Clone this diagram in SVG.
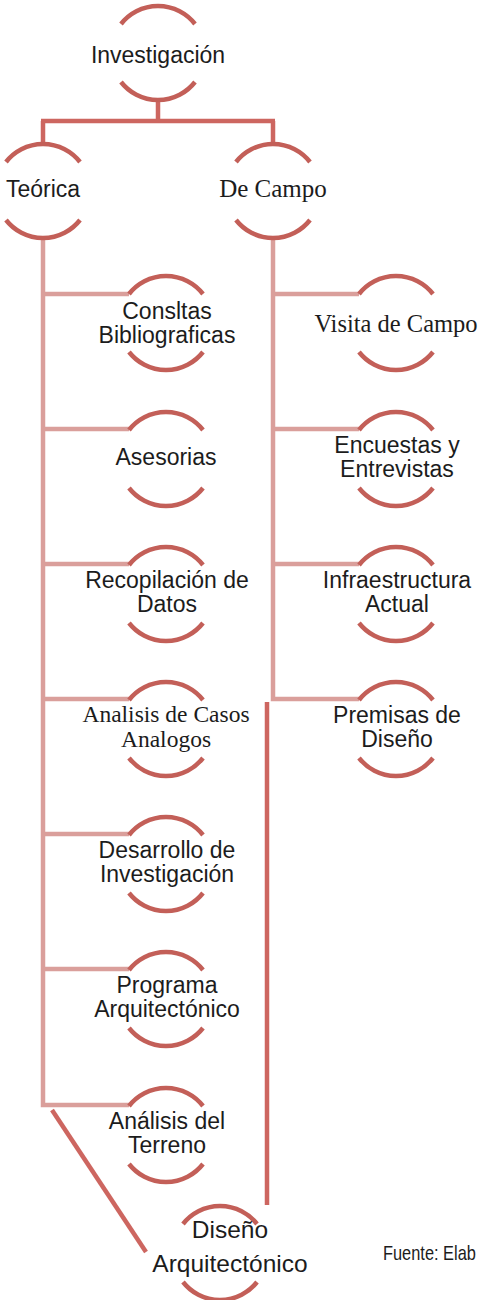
<svg xmlns="http://www.w3.org/2000/svg" width="478" height="1300" viewBox="0 0 478 1300">
<style>
.arc{fill:none;stroke:#c35f58;stroke-width:4.5}
.lt{fill:none;stroke:#da9f9b;stroke-width:4.5}
.dk{fill:none;stroke:#cd6660;stroke-width:4.5}
.s{font-family:"Liberation Sans",Arial,sans-serif;font-size:23px;fill:#1c1c1c;text-anchor:middle}
.r{font-family:"Liberation Serif","Times New Roman",serif;font-size:24.5px;fill:#1c1c1c;text-anchor:middle}
</style>
<rect width="478" height="1300" fill="#ffffff"/>
<g id="connectors">
<path class="dk" d="M158 100 V121 M41 121 H275 M43 121 V144 M273 121 V144"/>
<path class="lt" d="M43 238 V1105 H129 M43 294 H129 M43 429 H129 M43 564 H129 M43 699 H129 M43 834 H129 M43 969 H129"/>
<path class="lt" d="M273 238 V699 H359 M273 294 H359 M273 429 H359 M273 564 H359"/>
<path class="dk" d="M267 702 V1205"/>
<path class="dk" d="M52 1110 L146 1252"/>
</g>
<g id="investigacion">
<path class="arc" d="M121 24 A47 47 0 0 1 195 24 M121 82 A47 47 0 0 0 195 82"/>
<text class="s" x="158" y="63">Investigación</text>
</g>
<g id="teorica">
<path class="arc" d="M6 162 A47 47 0 0 1 80 162 M6 220 A47 47 0 0 0 80 220"/>
<text class="s" x="43" y="197">Teórica</text>
</g>
<g id="decampo">
<path class="arc" d="M236 162 A47 47 0 0 1 310 162 M236 220 A47 47 0 0 0 310 220"/>
<text class="r" x="273" y="197" style="font-size:25px">De Campo</text>
</g>
<g id="consultas">
<path class="arc" d="M129 294 A47 47 0 0 1 203 294 M129 352 A47 47 0 0 0 203 352"/>
<text class="s" x="167" y="319">Consltas</text>
<text class="s" x="167" y="343">Bibliograficas</text>
</g>
<g id="asesorias">
<path class="arc" d="M129 430 A47 47 0 0 1 203 430 M129 488 A47 47 0 0 0 203 488"/>
<text class="s" x="166" y="465">Asesorias</text>
</g>
<g id="recopilacion">
<path class="arc" d="M129 565 A47 47 0 0 1 203 565 M129 623 A47 47 0 0 0 203 623"/>
<text class="s" x="167" y="588">Recopilación de</text>
<text class="s" x="167" y="612">Datos</text>
</g>
<g id="analisis-casos">
<path class="arc" d="M129 700 A47 47 0 0 1 203 700 M129 758 A47 47 0 0 0 203 758"/>
<text class="r" x="166" y="722" style="font-size:23.5px">Analisis de Casos</text>
<text class="r" x="166" y="747" style="font-size:23.5px">Analogos</text>
</g>
<g id="desarrollo">
<path class="arc" d="M129 835 A47 47 0 0 1 203 835 M129 893 A47 47 0 0 0 203 893"/>
<text class="s" x="167" y="858">Desarrollo de</text>
<text class="s" x="167" y="882">Investigación</text>
</g>
<g id="programa">
<path class="arc" d="M129 970 A47 47 0 0 1 203 970 M129 1028 A47 47 0 0 0 203 1028"/>
<text class="s" x="167" y="993">Programa</text>
<text class="s" x="167" y="1017">Arquitectónico</text>
</g>
<g id="terreno">
<path class="arc" d="M129 1106 A47 47 0 0 1 203 1106 M129 1164 A47 47 0 0 0 203 1164"/>
<text class="s" x="167" y="1129">Análisis del</text>
<text class="s" x="167" y="1153">Terreno</text>
</g>
<g id="visita">
<path class="arc" d="M359 294 A47 47 0 0 1 433 294 M359 352 A47 47 0 0 0 433 352"/>
<text class="r" x="396" y="332">Visita de Campo</text>
</g>
<g id="encuestas">
<path class="arc" d="M359 430 A47 47 0 0 1 433 430 M359 488 A47 47 0 0 0 433 488"/>
<text class="s" x="397" y="453">Encuestas y</text>
<text class="s" x="397" y="477">Entrevistas</text>
</g>
<g id="infraestructura">
<path class="arc" d="M359 565 A47 47 0 0 1 433 565 M359 623 A47 47 0 0 0 433 623"/>
<text class="s" x="397" y="588">Infraestructura</text>
<text class="s" x="397" y="612">Actual</text>
</g>
<g id="premisas">
<path class="arc" d="M359 700 A47 47 0 0 1 433 700 M359 758 A47 47 0 0 0 433 758"/>
<text class="s" x="397" y="723">Premisas de</text>
<text class="s" x="397" y="747">Diseño</text>
</g>
<g id="diseno">
<path class="arc" d="M183 1224 A47 47 0 0 1 257 1224 M183 1282 A47 47 0 0 0 257 1282"/>
<text class="s" x="230" y="1238" style="font-size:24.5px">Diseño</text>
<text class="s" x="230" y="1272" style="font-size:24.5px">Arquitectónico</text>
</g>
<g id="fuente">
<text x="0" y="0" transform="translate(383 1260) scale(0.82 1)" style="font-family:'Liberation Sans',Arial,sans-serif;font-size:20px;fill:#1c1c1c">Fuente: Elab</text>
</g>
</svg>
